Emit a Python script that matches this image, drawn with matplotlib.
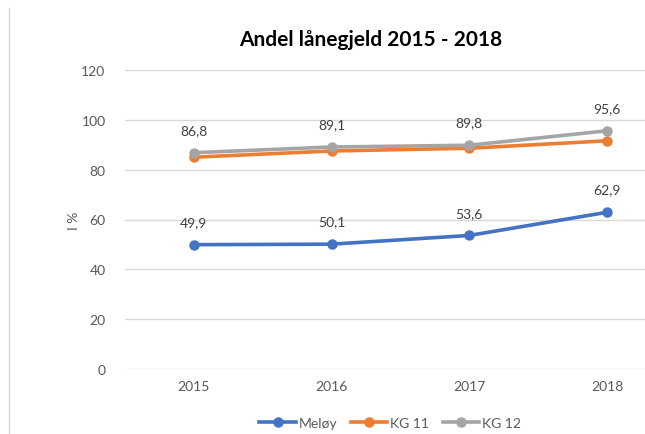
import matplotlib
matplotlib.use("Agg")
import matplotlib.pyplot as plt
from matplotlib.lines import Line2D

years = ["2015", "2016", "2017", "2018"]
meloy = [49.9, 50.1, 53.6, 62.9]
kg11 = [85.0, 87.5, 88.6, 91.6]
kg12 = [86.8, 89.1, 89.8, 95.6]
series_names = ["Meløy", "KG 11", "KG 12"]
yticks = [0, 20, 40, 60, 80, 100, 120]

plt.rcParams['font.family'] = ['Lato', 'DejaVu Sans']

fig = plt.figure(figsize=(6.45, 4.35), dpi=100)
fig.patch.set_facecolor("white")

# akser som går litt utenfor bildet til høyre (som i originalen)
ax = fig.add_axes([125 / 645, 65 / 435, 551 / 645, 299 / 435])
x = list(range(len(years)))

colors = ["#4472C4", "#ED7D31", "#A5A5A5"]
for vals, c, name in zip([meloy, kg11, kg12], colors, series_names):
    ax.plot(x, vals, color=c, lw=2.6, marker="o", ms=6.5, label=name,
            solid_capstyle="round", zorder=3)

# dataetiketter for Meløy og KG 12
for vals in [meloy, kg12]:
    for xi, v in zip(x, vals):
        ax.annotate(f"{v:.1f}".replace(".", ","), (xi, v), xytext=(0, 12),
                    textcoords="offset points", ha="center", va="bottom",
                    fontsize=10, color="#404040")

ax.set_xlim(-0.5, 3.5)
ax.set_ylim(0, 120)
ax.set_yticks(yticks)
ax.set_xticks(x)
ax.set_xticklabels(years)
ax.grid(axis="y", color="#D9D9D9", lw=1)
ax.set_axisbelow(True)
for s in ax.spines.values():
    s.set_visible(False)
ax.tick_params(length=0, labelsize=10, colors="#595959")
ax.tick_params(axis="y", pad=14)
ax.tick_params(axis="x", pad=8)
ax.set_ylabel("I %", fontsize=10, color="#595959", labelpad=1)

fig.text(371 / 645, 1 - 40 / 435, "Andel lånegjeld 2015 - 2018", ha="center",
         va="center", fontsize=15, fontweight="bold", color="black")

handles = [Line2D([0], [0], color=c, lw=2.6, marker="o", ms=6.5) for c in colors]
fig.legend(handles, series_names, loc="center", bbox_to_anchor=(390 / 645, 1 - 424 / 435),
           ncol=3, frameon=False, fontsize=10, handlelength=2.6, columnspacing=1.0,
           handletextpad=0.2, labelcolor="#595959")

# tynn grå kantlinje til venstre
fig.add_artist(Line2D([9 / 645, 9 / 645], [0, 1 - 9 / 435], color="#D9D9D9", lw=1))

fig.savefig("out.png", dpi=100)
